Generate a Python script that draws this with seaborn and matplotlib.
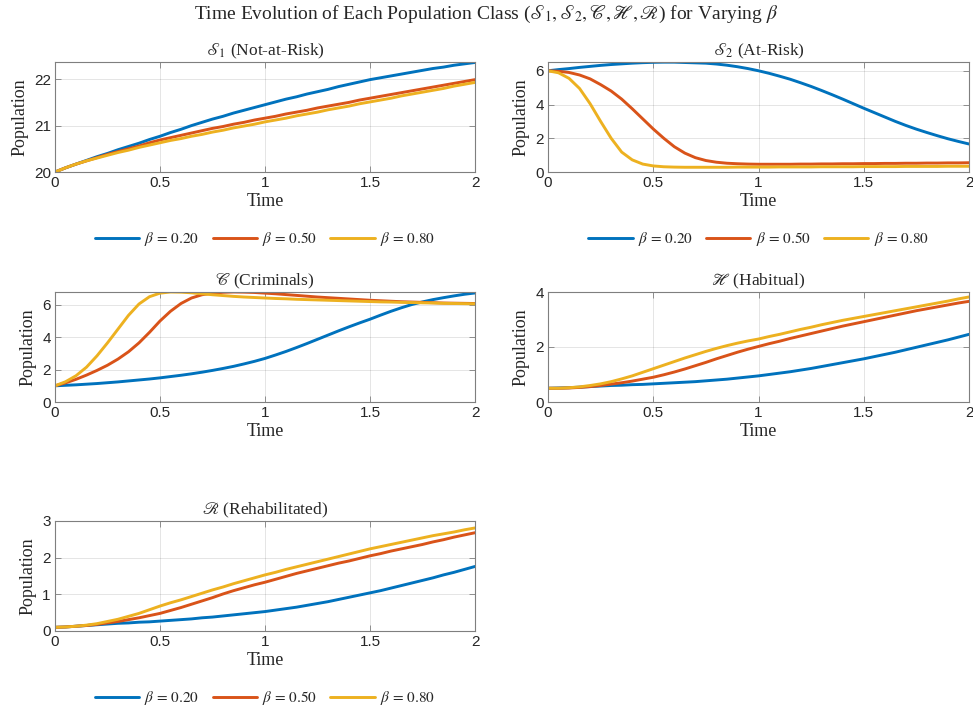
import numpy as np
import pandas as pd
import matplotlib
matplotlib.use("Agg")
import matplotlib.pyplot as plt
import seaborn as sns

# ---------------- data ----------------
time = np.round(np.linspace(0, 2, 41), 2)
beta_labels = ["0.20", "0.50", "0.80"]

s1_b20 = [20.00, 20.09, 20.17, 20.25, 20.33, 20.40, 20.48, 20.55, 20.62, 20.70, 20.77,
          20.85, 20.92, 21.00, 21.07, 21.14, 21.20, 21.27, 21.33, 21.39, 21.45,
          21.51, 21.57, 21.62, 21.68, 21.73, 21.78, 21.84, 21.89, 21.94, 21.99,
          22.03, 22.07, 22.11, 22.15, 22.19, 22.23, 22.26, 22.30, 22.33, 22.36]
s1_b50 = [20.00, 20.09, 20.17, 20.24, 20.31, 20.38, 20.44, 20.50, 20.56, 20.63, 20.69,
          20.74, 20.79, 20.84, 20.89, 20.94, 20.98, 21.03, 21.07, 21.12, 21.16,
          21.20, 21.25, 21.29, 21.33, 21.38, 21.42, 21.46, 21.50, 21.55, 21.59,
          21.63, 21.67, 21.71, 21.75, 21.79, 21.83, 21.87, 21.91, 21.95, 21.99]
s1_b80 = [20.00, 20.09, 20.17, 20.24, 20.30, 20.36, 20.42, 20.47, 20.53, 20.58, 20.63,
          20.68, 20.72, 20.77, 20.81, 20.86, 20.90, 20.95, 20.99, 21.03, 21.08,
          21.12, 21.16, 21.21, 21.25, 21.29, 21.34, 21.38, 21.42, 21.47, 21.51,
          21.55, 21.59, 21.64, 21.68, 21.72, 21.76, 21.80, 21.85, 21.89, 21.93]

s2_b20 = [6.00, 6.07, 6.13, 6.20, 6.26, 6.32, 6.37, 6.41, 6.45, 6.48, 6.50,
          6.51, 6.51, 6.49, 6.47, 6.45, 6.40, 6.33, 6.24, 6.13, 6.00,
          5.85, 5.68, 5.50, 5.29, 5.07, 4.83, 4.58, 4.32, 4.05, 3.78,
          3.52, 3.26, 3.00, 2.76, 2.54, 2.34, 2.15, 1.97, 1.81, 1.66]
s2_b50 = [6.00, 5.97, 5.90, 5.75, 5.52, 5.18, 4.80, 4.32, 3.75, 3.15, 2.55,
          2.00, 1.50, 1.12, 0.85, 0.68, 0.58, 0.52, 0.49, 0.47, 0.46,
          0.46, 0.46, 0.46, 0.47, 0.47, 0.48, 0.48, 0.49, 0.49, 0.50,
          0.50, 0.51, 0.51, 0.52, 0.52, 0.53, 0.53, 0.54, 0.54, 0.55]
s2_b80 = [6.00, 5.88, 5.55, 4.95, 4.05, 3.00, 2.00, 1.18, 0.72, 0.47, 0.36,
          0.31, 0.29, 0.28, 0.28, 0.28, 0.28, 0.28, 0.29, 0.29, 0.29,
          0.29, 0.30, 0.30, 0.30, 0.30, 0.31, 0.31, 0.31, 0.31, 0.32,
          0.32, 0.32, 0.32, 0.33, 0.33, 0.33, 0.33, 0.34, 0.34, 0.34]

c_b20 = [1.00, 1.03, 1.06, 1.10, 1.14, 1.19, 1.24, 1.30, 1.36, 1.42, 1.49,
         1.57, 1.65, 1.74, 1.84, 1.95, 2.07, 2.20, 2.35, 2.51, 2.69,
         2.90, 3.12, 3.36, 3.61, 3.87, 4.13, 4.39, 4.64, 4.88, 5.11,
         5.36, 5.60, 5.82, 6.02, 6.18, 6.32, 6.44, 6.55, 6.65, 6.73]
c_b50 = [1.00, 1.18, 1.40, 1.66, 1.95, 2.27, 2.65, 3.10, 3.65, 4.30, 5.00,
         5.60, 6.08, 6.42, 6.62, 6.72, 6.77, 6.79, 6.78, 6.76, 6.72,
         6.68, 6.63, 6.58, 6.53, 6.48, 6.44, 6.40, 6.36, 6.32, 6.28,
         6.25, 6.22, 6.19, 6.17, 6.15, 6.13, 6.11, 6.10, 6.09, 6.08]
c_b80 = [1.00, 1.25, 1.62, 2.15, 2.85, 3.65, 4.50, 5.35, 6.05, 6.50, 6.72,
         6.79, 6.78, 6.74, 6.68, 6.62, 6.57, 6.52, 6.48, 6.45, 6.42,
         6.39, 6.37, 6.34, 6.32, 6.30, 6.28, 6.26, 6.24, 6.22, 6.20,
         6.18, 6.17, 6.15, 6.14, 6.12, 6.11, 6.09, 6.08, 6.07, 6.06]

h_b20 = [0.50, 0.51, 0.52, 0.54, 0.56, 0.58, 0.60, 0.61, 0.63, 0.64, 0.66,
         0.68, 0.70, 0.72, 0.74, 0.77, 0.80, 0.83, 0.87, 0.91, 0.95,
         1.00, 1.05, 1.10, 1.16, 1.22, 1.29, 1.36, 1.43, 1.50, 1.57,
         1.65, 1.73, 1.81, 1.90, 1.99, 2.08, 2.17, 2.26, 2.36, 2.46]
h_b50 = [0.50, 0.50, 0.51, 0.53, 0.56, 0.60, 0.65, 0.70, 0.76, 0.83, 0.90,
         0.99, 1.09, 1.20, 1.32, 1.44, 1.57, 1.69, 1.81, 1.92, 2.02,
         2.12, 2.21, 2.31, 2.40, 2.49, 2.58, 2.67, 2.76, 2.84, 2.92,
         3.00, 3.08, 3.16, 3.24, 3.32, 3.39, 3.46, 3.53, 3.60, 3.66]
h_b80 = [0.50, 0.50, 0.52, 0.55, 0.60, 0.66, 0.74, 0.84, 0.95, 1.08, 1.21,
         1.34, 1.47, 1.60, 1.72, 1.84, 1.95, 2.05, 2.14, 2.22, 2.29,
         2.38, 2.46, 2.55, 2.64, 2.72, 2.81, 2.89, 2.97, 3.04, 3.11,
         3.18, 3.25, 3.32, 3.39, 3.46, 3.53, 3.60, 3.67, 3.75, 3.82]

r_b20 = [0.10, 0.11, 0.13, 0.15, 0.17, 0.19, 0.21, 0.22, 0.24, 0.25, 0.27,
         0.29, 0.31, 0.33, 0.36, 0.38, 0.41, 0.44, 0.47, 0.50, 0.53,
         0.57, 0.61, 0.65, 0.70, 0.75, 0.80, 0.86, 0.92, 0.98, 1.04,
         1.10, 1.17, 1.24, 1.31, 1.38, 1.45, 1.53, 1.60, 1.68, 1.76]
r_b50 = [0.10, 0.11, 0.13, 0.15, 0.18, 0.22, 0.26, 0.31, 0.36, 0.42, 0.48,
         0.56, 0.64, 0.73, 0.82, 0.91, 1.01, 1.10, 1.18, 1.26, 1.33,
         1.41, 1.49, 1.57, 1.64, 1.71, 1.78, 1.85, 1.91, 1.98, 2.05,
         2.11, 2.18, 2.24, 2.30, 2.36, 2.43, 2.49, 2.56, 2.62, 2.68]
r_b80 = [0.10, 0.11, 0.13, 0.16, 0.20, 0.26, 0.32, 0.40, 0.48, 0.58, 0.68,
         0.77, 0.85, 0.94, 1.03, 1.12, 1.20, 1.29, 1.37, 1.45, 1.53,
         1.60, 1.68, 1.75, 1.82, 1.89, 1.96, 2.03, 2.10, 2.17, 2.24,
         2.30, 2.36, 2.42, 2.48, 2.54, 2.60, 2.65, 2.70, 2.76, 2.81]

panel_titles = [r"$\mathscr{S}_1$ (Not-at-Risk)", r"$\mathscr{S}_2$ (At-Risk)",
                r"$\mathscr{C}$ (Criminals)", r"$\mathscr{H}$ (Habitual)",
                r"$\mathscr{R}$ (Rehabilitated)"]
panel_series = [(s1_b20, s1_b50, s1_b80), (s2_b20, s2_b50, s2_b80),
                (c_b20, c_b50, c_b80), (h_b20, h_b50, h_b80), (r_b20, r_b50, r_b80)]
panel_ylims = [(20, 22.37), (0, 6.52), (0, 6.79), (0, 4), (0, 3)]
panel_yticks = [[20, 21, 22], [0, 2, 4, 6], [0, 2, 4, 6], [0, 2, 4], [0, 1, 2, 3]]
x_ticks = [0, 0.5, 1, 1.5, 2]
x_tick_labels = ["0", "0.5", "1", "1.5", "2"]

colors = ["#0072BD", "#D95319", "#EDB120"]

# ---------------- style ----------------
sns.set_theme(style="white")
plt.rcParams["font.family"] = ["Liberation Serif", "DejaVu Serif"]
plt.rcParams["mathtext.fontset"] = "stix"

W, H = 973, 709
fig = plt.figure(figsize=(W / 100, H / 100), dpi=100)
fig.patch.set_facecolor("white")

def rect(left, top, right, bottom):
    return [left / W, 1 - bottom / H, (right - left) / W, (bottom - top) / H]

positions = [rect(55, 62, 475, 172), rect(548, 62, 969, 172),
             rect(55, 292, 475, 402), rect(548, 292, 969, 402),
             rect(55, 521, 475, 631)]
legend_panels = [0, 1, 4]

hue_names = [rf"$\beta\,=\,{b}$" for b in beta_labels]

for i, (pos, title, series) in enumerate(zip(positions, panel_titles, panel_series)):
    ax = fig.add_axes(pos)
    df = pd.DataFrame({
        "Time": np.concatenate([time] * 3),
        "Population": np.concatenate([np.asarray(s, float) for s in series]),
        "beta": np.repeat(hue_names, len(time)),
    })
    sns.lineplot(data=df, x="Time", y="Population", hue="beta", hue_order=hue_names,
                 palette=colors, linewidth=2.1, ax=ax, legend=False, estimator=None)
    ax.set_xlim(0, 2)
    ax.set_ylim(*panel_ylims[i])
    ax.set_xticks(x_ticks)
    ax.set_xticklabels(x_tick_labels)
    ax.set_yticks(panel_yticks[i])
    ax.set_yticklabels([str(v) for v in panel_yticks[i]])
    for lab in ax.get_xticklabels() + ax.get_yticklabels():
        lab.set_fontfamily(["Liberation Sans", "DejaVu Sans"])
        lab.set_fontsize(11)
        lab.set_color("#262626")
    ax.tick_params(axis="both", which="both", direction="in", length=4, width=0.6,
                   color="#7f7f7f", top=True, right=True, bottom=True, left=True, pad=3)
    ax.grid(True, color="#000000", alpha=0.12, linewidth=0.6)
    for sp in ax.spines.values():
        sp.set_color("#7f7f7f")
        sp.set_linewidth(0.8)
        sp.set_visible(True)
    ax.set_xlabel("Time", fontsize=13, color="#262626", labelpad=2)
    ax.set_ylabel("Population", fontsize=13, color="#262626", labelpad=4)
    ax.set_title(title, fontsize=12.5, color="#262626", pad=5)
    if i in legend_panels:
        handles = ax.get_lines()[:3]
        ax.legend(handles, hue_names, loc="center", bbox_to_anchor=(0.5, -0.61),
                  ncol=3, frameon=False, fontsize=11, handlelength=2.9,
                  columnspacing=0.85, handletextpad=0.35)

fig.text(0.5, 1 - 14 / H, r"Time Evolution of Each Population Class "
         r"($\mathscr{S}_1, \mathscr{S}_2, \mathscr{C}, \mathscr{H}, \mathscr{R}$)"
         r" for Varying $\beta$", ha="center", va="center", fontsize=14, color="#262626")

fig.savefig("out.png", dpi=100, facecolor="white")
